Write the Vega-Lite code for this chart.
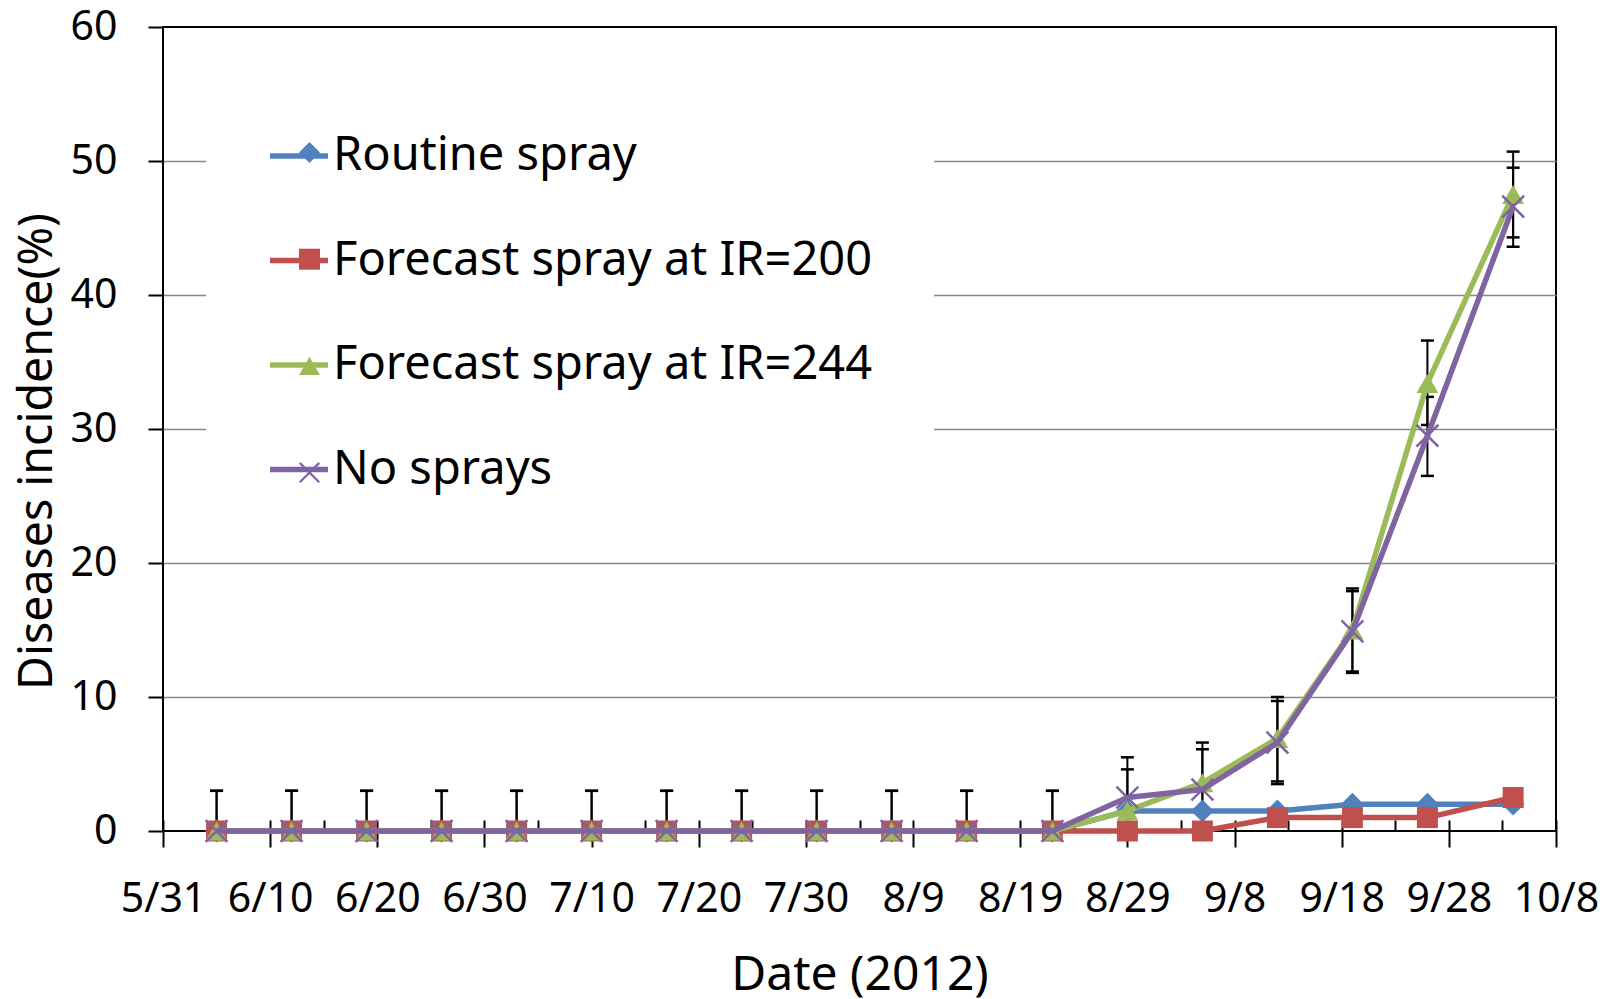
{
  "$schema": "https://vega.github.io/schema/vega-lite/v6.json",
  "width": 1393,
  "height": 804,
  "autosize": {"type": "none"},
  "padding": {"left": 163, "top": 27, "right": 64, "bottom": 168},
  "background": "white",
  "config": {
    "font": "Noto Sans",
    "view": {"stroke": "black", "strokeWidth": 2}
  },
  "data": {
    "values": [
      {"date": "2012-06-05", "series": "Routine spray", "value": 0},
      {"date": "2012-06-12", "series": "Routine spray", "value": 0},
      {"date": "2012-06-19", "series": "Routine spray", "value": 0},
      {"date": "2012-06-26", "series": "Routine spray", "value": 0},
      {"date": "2012-07-03", "series": "Routine spray", "value": 0},
      {"date": "2012-07-10", "series": "Routine spray", "value": 0},
      {"date": "2012-07-17", "series": "Routine spray", "value": 0},
      {"date": "2012-07-24", "series": "Routine spray", "value": 0},
      {"date": "2012-07-31", "series": "Routine spray", "value": 0},
      {"date": "2012-08-07", "series": "Routine spray", "value": 0},
      {"date": "2012-08-14", "series": "Routine spray", "value": 0},
      {"date": "2012-08-22", "series": "Routine spray", "value": 0},
      {"date": "2012-08-29", "series": "Routine spray", "value": 1.5},
      {"date": "2012-09-05", "series": "Routine spray", "value": 1.5},
      {"date": "2012-09-12", "series": "Routine spray", "value": 1.5},
      {"date": "2012-09-19", "series": "Routine spray", "value": 2.0},
      {"date": "2012-09-26", "series": "Routine spray", "value": 2.0},
      {"date": "2012-10-04", "series": "Routine spray", "value": 2.0},

      {"date": "2012-06-05", "series": "Forecast spray at IR=200", "value": 0},
      {"date": "2012-06-12", "series": "Forecast spray at IR=200", "value": 0},
      {"date": "2012-06-19", "series": "Forecast spray at IR=200", "value": 0},
      {"date": "2012-06-26", "series": "Forecast spray at IR=200", "value": 0},
      {"date": "2012-07-03", "series": "Forecast spray at IR=200", "value": 0},
      {"date": "2012-07-10", "series": "Forecast spray at IR=200", "value": 0},
      {"date": "2012-07-17", "series": "Forecast spray at IR=200", "value": 0},
      {"date": "2012-07-24", "series": "Forecast spray at IR=200", "value": 0},
      {"date": "2012-07-31", "series": "Forecast spray at IR=200", "value": 0},
      {"date": "2012-08-07", "series": "Forecast spray at IR=200", "value": 0},
      {"date": "2012-08-14", "series": "Forecast spray at IR=200", "value": 0},
      {"date": "2012-08-22", "series": "Forecast spray at IR=200", "value": 0},
      {"date": "2012-08-29", "series": "Forecast spray at IR=200", "value": 0},
      {"date": "2012-09-05", "series": "Forecast spray at IR=200", "value": 0},
      {"date": "2012-09-12", "series": "Forecast spray at IR=200", "value": 1.0},
      {"date": "2012-09-19", "series": "Forecast spray at IR=200", "value": 1.0},
      {"date": "2012-09-26", "series": "Forecast spray at IR=200", "value": 1.0},
      {"date": "2012-10-04", "series": "Forecast spray at IR=200", "value": 2.5},

      {"date": "2012-06-05", "series": "Forecast spray at IR=244", "value": 0, "lo": -3, "hi": 3},
      {"date": "2012-06-12", "series": "Forecast spray at IR=244", "value": 0, "lo": -3, "hi": 3},
      {"date": "2012-06-19", "series": "Forecast spray at IR=244", "value": 0, "lo": -3, "hi": 3},
      {"date": "2012-06-26", "series": "Forecast spray at IR=244", "value": 0, "lo": -3, "hi": 3},
      {"date": "2012-07-03", "series": "Forecast spray at IR=244", "value": 0, "lo": -3, "hi": 3},
      {"date": "2012-07-10", "series": "Forecast spray at IR=244", "value": 0, "lo": -3, "hi": 3},
      {"date": "2012-07-17", "series": "Forecast spray at IR=244", "value": 0, "lo": -3, "hi": 3},
      {"date": "2012-07-24", "series": "Forecast spray at IR=244", "value": 0, "lo": -3, "hi": 3},
      {"date": "2012-07-31", "series": "Forecast spray at IR=244", "value": 0, "lo": -3, "hi": 3},
      {"date": "2012-08-07", "series": "Forecast spray at IR=244", "value": 0, "lo": -3, "hi": 3},
      {"date": "2012-08-14", "series": "Forecast spray at IR=244", "value": 0, "lo": -3, "hi": 3},
      {"date": "2012-08-22", "series": "Forecast spray at IR=244", "value": 0, "lo": -3, "hi": 3},
      {"date": "2012-08-29", "series": "Forecast spray at IR=244", "value": 1.5, "lo": -1.5, "hi": 4.6},
      {"date": "2012-09-05", "series": "Forecast spray at IR=244", "value": 3.6, "lo": 0.6, "hi": 6.6},
      {"date": "2012-09-12", "series": "Forecast spray at IR=244", "value": 6.9, "lo": 3.7, "hi": 10.0},
      {"date": "2012-09-19", "series": "Forecast spray at IR=244", "value": 15.0, "lo": 11.9, "hi": 18.1},
      {"date": "2012-09-26", "series": "Forecast spray at IR=244", "value": 33.4, "lo": 30.3, "hi": 36.6},
      {"date": "2012-10-04", "series": "Forecast spray at IR=244", "value": 47.5, "lo": 44.3, "hi": 50.7},

      {"date": "2012-06-05", "series": "No sprays", "value": 0, "lo": -3, "hi": 3},
      {"date": "2012-06-12", "series": "No sprays", "value": 0, "lo": -3, "hi": 3},
      {"date": "2012-06-19", "series": "No sprays", "value": 0, "lo": -3, "hi": 3},
      {"date": "2012-06-26", "series": "No sprays", "value": 0, "lo": -3, "hi": 3},
      {"date": "2012-07-03", "series": "No sprays", "value": 0, "lo": -3, "hi": 3},
      {"date": "2012-07-10", "series": "No sprays", "value": 0, "lo": -3, "hi": 3},
      {"date": "2012-07-17", "series": "No sprays", "value": 0, "lo": -3, "hi": 3},
      {"date": "2012-07-24", "series": "No sprays", "value": 0, "lo": -3, "hi": 3},
      {"date": "2012-07-31", "series": "No sprays", "value": 0, "lo": -3, "hi": 3},
      {"date": "2012-08-07", "series": "No sprays", "value": 0, "lo": -3, "hi": 3},
      {"date": "2012-08-14", "series": "No sprays", "value": 0, "lo": -3, "hi": 3},
      {"date": "2012-08-22", "series": "No sprays", "value": 0, "lo": -3, "hi": 3},
      {"date": "2012-08-29", "series": "No sprays", "value": 2.5, "lo": -0.5, "hi": 5.5},
      {"date": "2012-09-05", "series": "No sprays", "value": 3.1, "lo": 0.1, "hi": 6.1},
      {"date": "2012-09-12", "series": "No sprays", "value": 6.6, "lo": 3.5, "hi": 9.7},
      {"date": "2012-09-19", "series": "No sprays", "value": 14.9, "lo": 11.8, "hi": 17.9},
      {"date": "2012-09-26", "series": "No sprays", "value": 29.5, "lo": 26.5, "hi": 32.4},
      {"date": "2012-10-04", "series": "No sprays", "value": 46.6, "lo": 43.6, "hi": 49.5}
    ]
  },
  "encoding": {
    "x": {
      "field": "date", "type": "temporal",
      "scale": {"type": "utc", "domain": [{"year": 2012, "month": 5, "date": 31, "utc": true}, {"year": 2012, "month": 10, "date": 8, "utc": true}]},
      "axis": null
    },
    "y": {
      "field": "value", "type": "quantitative",
      "scale": {"domain": [0, 60], "nice": false},
      "axis": null
    }
  },
  "resolve": {"axis": {"x": "independent", "y": "independent"}},
  "layer": [
    {
      "transform": [{"filter": "isValid(datum.hi)"}],
      "mark": {"type": "rule", "color": "black", "strokeWidth": 2, "clip": true},
      "encoding": {
        "x": {
          "field": "date", "type": "temporal",
          "scale": {"type": "utc", "domain": [{"year": 2012, "month": 5, "date": 31, "utc": true}, {"year": 2012, "month": 10, "date": 8, "utc": true}]},
          "axis": {
            "orient": "bottom",
            "values": [
              {"year": 2012, "month": 5, "date": 31, "utc": true},
              {"year": 2012, "month": 6, "date": 10, "utc": true},
              {"year": 2012, "month": 6, "date": 20, "utc": true},
              {"year": 2012, "month": 6, "date": 30, "utc": true},
              {"year": 2012, "month": 7, "date": 10, "utc": true},
              {"year": 2012, "month": 7, "date": 20, "utc": true},
              {"year": 2012, "month": 7, "date": 30, "utc": true},
              {"year": 2012, "month": 8, "date": 9, "utc": true},
              {"year": 2012, "month": 8, "date": 19, "utc": true},
              {"year": 2012, "month": 8, "date": 29, "utc": true},
              {"year": 2012, "month": 9, "date": 8, "utc": true},
              {"year": 2012, "month": 9, "date": 18, "utc": true},
              {"year": 2012, "month": 9, "date": 28, "utc": true},
              {"year": 2012, "month": 10, "date": 8, "utc": true}
            ],
            "labelExpr": "utcFormat(datum.value, '%-m/%-d')",
            "domain": false,
            "grid": false,
            "tickColor": "black",
            "tickSize": 16,
            "tickWidth": 2,
            "labelFont": "Noto Sans",
            "labelFontSize": 41,
            "labelColor": "black",
            "labelBaseline": "alphabetic",
            "labelPadding": 64,
            "labelFlush": false,
            "labelOverlap": false,
            "labelBound": false,
            "title": "Date (2012)",
            "titleFont": "Noto Sans",
            "titleFontSize": 48,
            "titleFontWeight": "normal",
            "titleColor": "black",
            "titleX": 696.5,
            "titleY": 158,
            "titleAlign": "center",
            "titleBaseline": "alphabetic"
          }
        },
        "y": {
          "field": "lo", "type": "quantitative",
          "scale": {"domain": [0, 60], "nice": false},
          "axis": {
            "orient": "left",
            "title": "Diseases incidence(%)",
            "values": [0, 10, 20, 30, 40, 50, 60],
            "grid": true,
            "gridColor": "#868686",
            "gridWidth": 1.3,
            "gridOpacity": {"condition": {"test": "datum.value === 0 || datum.value === 60", "value": 0}, "value": 1},
            "domain": false,
            "ticks": true,
            "tickColor": "black",
            "tickSize": 15,
            "tickWidth": 2,
            "labelFont": "Noto Sans",
            "labelFontSize": 41,
            "labelColor": "black",
            "labelPadding": 31,
            "labelBaseline": "middle",
            "titleFont": "Noto Sans",
            "titleFontSize": 46.5,
            "titleFontWeight": "normal",
            "titleColor": "black",
            "titleAngle": -90,
            "titleX": -112,
            "titleY": 424,
            "titleAlign": "center",
            "titleBaseline": "alphabetic"
          }
        },
        "y2": {"field": "hi"}
      }
    },
    {
      "transform": [{"filter": "isValid(datum.hi)"}],
      "mark": {"type": "tick", "orient": "horizontal", "color": "black", "size": 13, "thickness": 2.5, "opacity": 1, "clip": true},
      "encoding": {
        "x": {
          "field": "date", "type": "temporal",
          "scale": {"type": "utc", "domain": [{"year": 2012, "month": 5, "date": 31, "utc": true}, {"year": 2012, "month": 10, "date": 8, "utc": true}]},
          "axis": {
            "orient": "top",
            "offset": -804,
            "values": [
              {"year": 2012, "month": 5, "date": 31, "utc": true},
              {"year": 2012, "month": 6, "date": 5, "utc": true},
              {"year": 2012, "month": 6, "date": 10, "utc": true},
              {"year": 2012, "month": 6, "date": 15, "utc": true},
              {"year": 2012, "month": 6, "date": 20, "utc": true},
              {"year": 2012, "month": 6, "date": 25, "utc": true},
              {"year": 2012, "month": 6, "date": 30, "utc": true},
              {"year": 2012, "month": 7, "date": 5, "utc": true},
              {"year": 2012, "month": 7, "date": 10, "utc": true},
              {"year": 2012, "month": 7, "date": 15, "utc": true},
              {"year": 2012, "month": 7, "date": 20, "utc": true},
              {"year": 2012, "month": 7, "date": 25, "utc": true},
              {"year": 2012, "month": 7, "date": 30, "utc": true},
              {"year": 2012, "month": 8, "date": 4, "utc": true},
              {"year": 2012, "month": 8, "date": 9, "utc": true},
              {"year": 2012, "month": 8, "date": 14, "utc": true},
              {"year": 2012, "month": 8, "date": 19, "utc": true},
              {"year": 2012, "month": 8, "date": 24, "utc": true},
              {"year": 2012, "month": 8, "date": 29, "utc": true},
              {"year": 2012, "month": 9, "date": 3, "utc": true},
              {"year": 2012, "month": 9, "date": 8, "utc": true},
              {"year": 2012, "month": 9, "date": 13, "utc": true},
              {"year": 2012, "month": 9, "date": 18, "utc": true},
              {"year": 2012, "month": 9, "date": 23, "utc": true},
              {"year": 2012, "month": 9, "date": 28, "utc": true},
              {"year": 2012, "month": 10, "date": 3, "utc": true},
              {"year": 2012, "month": 10, "date": 8, "utc": true}
            ],
            "labels": false,
            "domain": false,
            "grid": false,
            "title": null,
            "tickColor": "black",
            "tickSize": 11,
            "tickWidth": 2
          }
        },
        "y": {"field": "hi", "type": "quantitative", "scale": {"domain": [0, 60], "nice": false}, "axis": null}
      }
    },
    {
      "transform": [{"filter": "isValid(datum.hi)"}],
      "mark": {"type": "tick", "orient": "horizontal", "color": "black", "size": 13, "thickness": 2.5, "opacity": 1, "clip": true},
      "encoding": {
        "y": {"field": "lo", "type": "quantitative", "scale": {"domain": [0, 60], "nice": false}, "axis": null}
      }
    },
    {
      "transform": [{"filter": "datum.series === 'Routine spray'"}],
      "layer": [
        {
          "mark": {"type": "line", "strokeWidth": 5.5, "strokeJoin": "round"},
          "encoding": {
            "stroke": {
              "field": "series", "type": "nominal",
              "scale": {"domain": ["Routine spray", "Forecast spray at IR=200", "Forecast spray at IR=244", "No sprays"], "range": ["#4F81BD", "#C0504D", "#9BBB59", "#8064A2"]},
              "legend": {"orient": "none", "legendX": 43, "legendY": 36, "title": null, "symbolType": "stroke", "symbolSize": 3364, "symbolStrokeWidth": 5.5, "labelFont": "Noto Sans", "labelFontSize": 47, "labelColor": "black", "labelLimit": 0, "labelOffset": 2, "rowPadding": 49.5, "padding": 61, "fillColor": "white", "zindex": 1}
            }
          }
        },
        {
          "mark": {"type": "point", "filled": true, "opacity": 1, "strokeWidth": 0, "size": 520},
          "encoding": {
            "fill": {
              "field": "series", "type": "nominal",
              "scale": {"domain": ["Routine spray", "Forecast spray at IR=200", "Forecast spray at IR=244", "No sprays"], "range": ["#4F81BD", "#C0504D", "#9BBB59", "#8064A2"]},
              "legend": null
            },
            "shape": {
              "field": "series", "type": "nominal",
              "scale": {"domain": ["Routine spray", "Forecast spray at IR=200", "Forecast spray at IR=244", "No sprays"], "range": ["diamond", "square", "triangle-up", "M-1,-0.85L-0.85,-1L1,0.85L0.85,1ZM0.85,-1L1,-0.85L-0.85,1L-1,0.85Z"]},
              "legend": {"orient": "top-left", "offset": 102, "title": null, "symbolSize": 440, "symbolOffset": 21, "symbolOpacity": 1, "symbolStrokeWidth": 0, "labelFont": "Noto Sans", "labelFontSize": 47, "labelOpacity": 0, "labelLimit": 0, "rowPadding": 58.7, "padding": 0, "zindex": 2}
            }
          }
        }
      ]
    },
    {
      "transform": [{"filter": "datum.series === 'Forecast spray at IR=200'"}],
      "layer": [
        {
          "mark": {"type": "line", "strokeWidth": 5.5, "strokeJoin": "round"},
          "encoding": {"stroke": {"field": "series", "type": "nominal"}}
        },
        {
          "mark": {"type": "point", "filled": true, "opacity": 1, "strokeWidth": 0, "size": 440},
          "encoding": {"fill": {"field": "series", "type": "nominal"}, "shape": {"field": "series", "type": "nominal"}}
        }
      ]
    },
    {
      "transform": [{"filter": "datum.series === 'Forecast spray at IR=244'"}],
      "layer": [
        {
          "mark": {"type": "line", "strokeWidth": 5.5, "strokeJoin": "round"},
          "encoding": {"stroke": {"field": "series", "type": "nominal"}}
        },
        {
          "mark": {"type": "point", "filled": true, "opacity": 1, "strokeWidth": 0, "size": 480},
          "encoding": {"fill": {"field": "series", "type": "nominal"}, "shape": {"field": "series", "type": "nominal"}}
        }
      ]
    },
    {
      "transform": [{"filter": "datum.series === 'No sprays'"}],
      "layer": [
        {
          "mark": {"type": "line", "strokeWidth": 5.5, "strokeJoin": "round"},
          "encoding": {"stroke": {"field": "series", "type": "nominal"}}
        },
        {
          "mark": {"type": "point", "filled": true, "opacity": 1, "strokeWidth": 0, "size": 560},
          "encoding": {"fill": {"field": "series", "type": "nominal"}, "shape": {"field": "series", "type": "nominal"}}
        }
      ]
    }
  ]
}
